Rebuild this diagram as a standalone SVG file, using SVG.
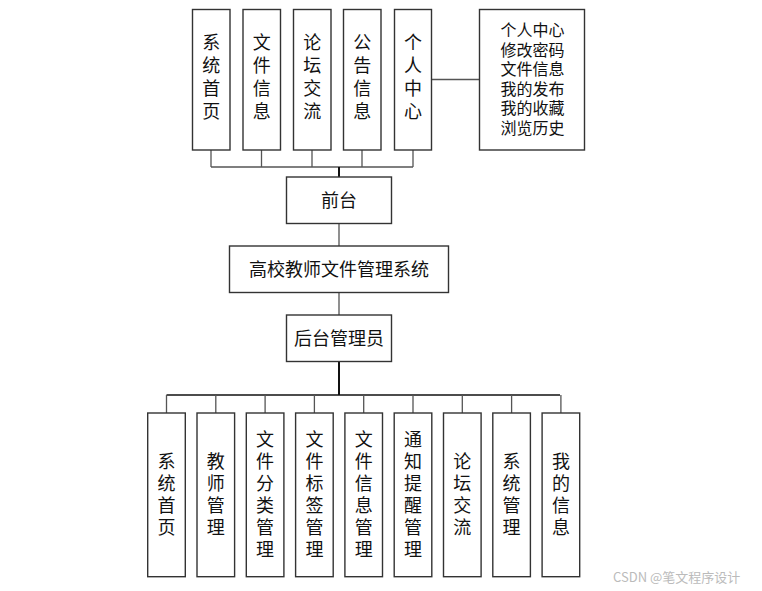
<svg xmlns="http://www.w3.org/2000/svg" width="762" height="591" viewBox="0 0 762 591">
<style>
.box{fill:#fff;stroke:#333;stroke-width:1.4}
.t{font-family:"Noto Sans CJK SC","Noto Sans",sans-serif;fill:#111;text-anchor:middle}
.v{font-size:18px}
.h{font-size:18px}
.s{font-size:16px}
.c{fill:none;stroke:#555;stroke-width:1.3}
.ck{fill:none;stroke:#111;stroke-width:2}
.wm{font-family:"Noto Sans CJK SC","Noto Sans",sans-serif;font-size:13px;fill:#bbb}
</style>
<rect width="762" height="591" fill="#fff"/>
<g id="connectors">
<path class="c" d="M211 150V167M261.5 150V167M312 150V167M362 150V167M413 150V167M211 167H413"/>
<path class="ck" d="M339 167V177"/>
<path class="c" d="M431.5 79.5H479.5"/>
<path class="c" d="M339 223.5V246M339 292.5V315"/>
<path class="ck" d="M339 361.5V395"/>
<path class="ck" d="M166.5 395H560" style="stroke-width:1.4"/>
<path class="c" d="M166.5 395V413M215.8 395V413M265.1 395V413M314.4 395V413M363.7 395V413M413 395V413M462.3 395V413M511.6 395V413M560.9 395V413"/>
</g>
<g id="n-top1"><rect class="box" x="192.5" y="9.5" width="37.5" height="140.5"/><text class="t v"><tspan x="211.2" y="49">系</tspan><tspan x="211.2" y="72">统</tspan><tspan x="211.2" y="95">首</tspan><tspan x="211.2" y="118">页</tspan></text></g>
<g id="n-top2"><rect class="box" x="243" y="9.5" width="37.5" height="140.5"/><text class="t v"><tspan x="261.7" y="49">文</tspan><tspan x="261.7" y="72">件</tspan><tspan x="261.7" y="95">信</tspan><tspan x="261.7" y="118">息</tspan></text></g>
<g id="n-top3"><rect class="box" x="293.5" y="9.5" width="37.5" height="140.5"/><text class="t v"><tspan x="312.2" y="49">论</tspan><tspan x="312.2" y="72">坛</tspan><tspan x="312.2" y="95">交</tspan><tspan x="312.2" y="118">流</tspan></text></g>
<g id="n-top4"><rect class="box" x="343.5" y="9.5" width="37.5" height="140.5"/><text class="t v"><tspan x="362.2" y="49">公</tspan><tspan x="362.2" y="72">告</tspan><tspan x="362.2" y="95">信</tspan><tspan x="362.2" y="118">息</tspan></text></g>
<g id="n-top5"><rect class="box" x="394.5" y="9.5" width="37" height="140.5"/><text class="t v"><tspan x="413" y="49">个</tspan><tspan x="413" y="72">人</tspan><tspan x="413" y="95">中</tspan><tspan x="413" y="118">心</tspan></text></g>
<g id="n-personal"><rect class="box" x="479.5" y="9.5" width="105" height="140.5"/><text class="t s"><tspan x="532.5" y="36">个人中心</tspan><tspan x="532.5" y="55.5">修改密码</tspan><tspan x="532.5" y="75">文件信息</tspan><tspan x="532.5" y="94.5">我的发布</tspan><tspan x="532.5" y="114">我的收藏</tspan><tspan x="532.5" y="133.5">浏览历史</tspan></text></g>
<g id="n-front"><rect class="box" x="286.5" y="177" width="105" height="46.5"/><text class="t h" x="339" y="206.5">前台</text></g>
<g id="n-main"><rect class="box" x="229.5" y="246" width="219" height="46.5"/><text class="t h" x="339" y="275.5">高校教师文件管理系统</text></g>
<g id="n-admin"><rect class="box" x="286.5" y="315" width="105" height="46.5"/><text class="t h" x="339" y="344.5">后台管理员</text></g>
<g id="n-b1"><rect class="box" x="147.7" y="413" width="37.6" height="163.7"/><text class="t v"><tspan x="166.5" y="468">系</tspan><tspan x="166.5" y="490">统</tspan><tspan x="166.5" y="512">首</tspan><tspan x="166.5" y="534">页</tspan></text></g>
<g id="n-b2"><rect class="box" x="197" y="413" width="37.6" height="163.7"/><text class="t v"><tspan x="215.8" y="468">教</tspan><tspan x="215.8" y="490">师</tspan><tspan x="215.8" y="512">管</tspan><tspan x="215.8" y="534">理</tspan></text></g>
<g id="n-b3"><rect class="box" x="246.3" y="413" width="37.6" height="163.7"/><text class="t v"><tspan x="265.1" y="446">文</tspan><tspan x="265.1" y="468">件</tspan><tspan x="265.1" y="490">分</tspan><tspan x="265.1" y="512">类</tspan><tspan x="265.1" y="534">管</tspan><tspan x="265.1" y="556">理</tspan></text></g>
<g id="n-b4"><rect class="box" x="295.6" y="413" width="37.6" height="163.7"/><text class="t v"><tspan x="314.4" y="446">文</tspan><tspan x="314.4" y="468">件</tspan><tspan x="314.4" y="490">标</tspan><tspan x="314.4" y="512">签</tspan><tspan x="314.4" y="534">管</tspan><tspan x="314.4" y="556">理</tspan></text></g>
<g id="n-b5"><rect class="box" x="344.9" y="413" width="37.6" height="163.7"/><text class="t v"><tspan x="363.7" y="446">文</tspan><tspan x="363.7" y="468">件</tspan><tspan x="363.7" y="490">信</tspan><tspan x="363.7" y="512">息</tspan><tspan x="363.7" y="534">管</tspan><tspan x="363.7" y="556">理</tspan></text></g>
<g id="n-b6"><rect class="box" x="394.2" y="413" width="37.6" height="163.7"/><text class="t v"><tspan x="413" y="446">通</tspan><tspan x="413" y="468">知</tspan><tspan x="413" y="490">提</tspan><tspan x="413" y="512">醒</tspan><tspan x="413" y="534">管</tspan><tspan x="413" y="556">理</tspan></text></g>
<g id="n-b7"><rect class="box" x="443.5" y="413" width="37.6" height="163.7"/><text class="t v"><tspan x="462.3" y="468">论</tspan><tspan x="462.3" y="490">坛</tspan><tspan x="462.3" y="512">交</tspan><tspan x="462.3" y="534">流</tspan></text></g>
<g id="n-b8"><rect class="box" x="492.8" y="413" width="37.6" height="163.7"/><text class="t v"><tspan x="511.6" y="468">系</tspan><tspan x="511.6" y="490">统</tspan><tspan x="511.6" y="512">管</tspan><tspan x="511.6" y="534">理</tspan></text></g>
<g id="n-b9"><rect class="box" x="542.1" y="413" width="37.6" height="163.7"/><text class="t v"><tspan x="560.9" y="468">我</tspan><tspan x="560.9" y="490">的</tspan><tspan x="560.9" y="512">信</tspan><tspan x="560.9" y="534">息</tspan></text></g>
<text class="wm" x="613" y="582">CSDN @笔文程序设计</text>
</svg>
